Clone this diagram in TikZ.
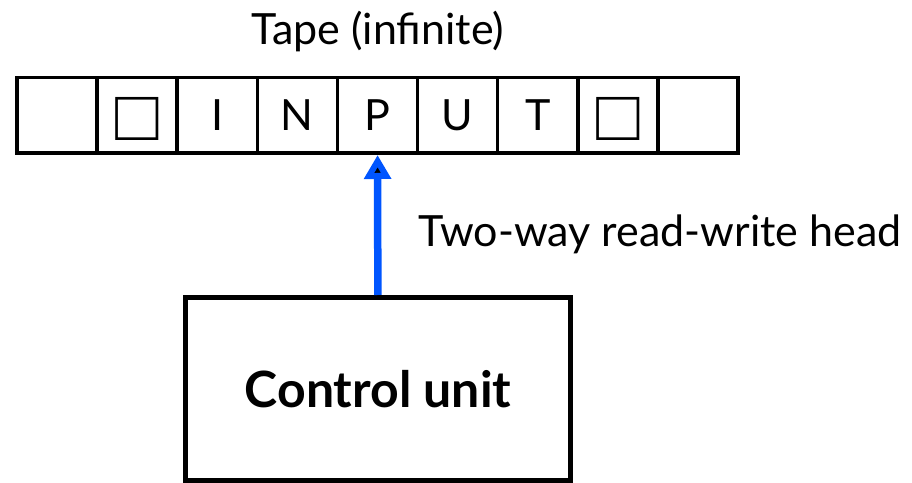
\documentclass[tikz,border=0pt]{standalone}
\usepackage{fontspec}
\setmainfont{Lato}
\newfontfamily\symfont{Liberation Sans}
\usetikzlibrary{arrows.meta}
\definecolor{headblue}{RGB}{0,85,255}

\begin{document}
\begin{tikzpicture}[x=1pt, y=1pt, font=\fontsize{43}{50}\selectfont,
  cell/.style={shape=rectangle, draw=black, line width=3.5pt, minimum width=80.11pt, minimum height=75.5pt, inner sep=0pt},
  blank/.style={font=\symfont\fontsize{72}{80}\selectfont, inner sep=0pt, yshift=-3pt}]
\useasboundingbox (0,0) rectangle (912,482);
% the tape, one node per square
\node[cell] (t1) at (57.06, 366.5) {};
\node[cell] (t2) at (137.17, 366.5) {};
\node[cell] (t3) at (217.28, 366.5) {I};
\node[cell] (t4) at (297.39, 366.5) {N};
\node[cell] (t5) at (377.5, 366.5) {P};
\node[cell] (t6) at (457.61, 366.5) {U};
\node[cell] (t7) at (537.72, 366.5) {T};
\node[cell] (t8) at (617.83, 366.5) {};
\node[cell] (t9) at (697.94, 366.5) {};
% blank symbols
\node[blank] (b2) at (t2) {□};
\node[blank] (b8) at (t8) {□};
\node[anchor=base] (tape) at (378, 437) {Tape (infinite)};
% finite control and its head
\node[shape=rectangle, draw=black, line width=5pt, minimum width=385pt, minimum height=182.5pt] (ctrl) at (378, 93.25) {\fontsize{50}{56}\selectfont\bfseries Control unit};
\node[anchor=base west] (head) at (415, 235) {Two-way read-write head};
\path [-{Triangle[width=26pt,length=24pt]}, line width=7.5pt, draw=headblue] (ctrl) edge (t5);
\end{tikzpicture}
\end{document}
